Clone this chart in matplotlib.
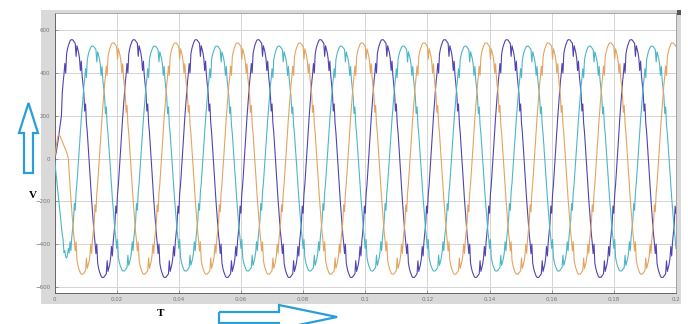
import numpy as np
import matplotlib
matplotlib.use('Agg')
import matplotlib.pyplot as plt
from matplotlib.patches import Rectangle, Polygon

# Positive half-cycle of the inverter voltage, per unit of peak, every 5 degrees
# (negative half is the mirror of it)
half_cycle = [0.00, 0.12, 0.24, 0.35, 0.45, 0.55, 0.64, 0.71, 0.80, 0.72,
              0.88, 0.92, 0.95, 0.97, 0.99, 1.00, 1.00, 1.00, 0.99, 0.98,
              0.97, 0.86, 0.95, 0.92, 0.89, 0.84, 0.74, 0.82, 0.70, 0.62,
              0.55, 0.40, 0.46, 0.30, 0.22, 0.11]

phase_colors = ['#5044b2', '#4db6c6', '#e4a460']
phase_peaks = [555, 525, 540]
phase_shift_deg = [-20, -140, 100]

# start-up samples (first few points after t=0)
startup = {
    0: [0, 10, 30, 55, 80, 110, 140, 170, 200],
    1: [0, -40, -80, -120, -160, -200, -240, -280, -320, -355, -380, -440,
        -430, -460, -465, -450, -420],
    2: [0, 25, 55, 85, 105, 112, 108, 100, 90, 80, 70, 60, 50, 40, 30, 15],
}

f_grid = 50
n_cycles = 10
steps_per_cycle = 72

x_ticks = [0, 0.02, 0.04, 0.06, 0.08, 0.1, 0.12, 0.14, 0.16, 0.18, 0.2]
x_tick_labels = ['0', '0.02', '0.04', '0.06', '0.08', '0.1', '0.12', '0.14', '0.16', '0.18', '0.2']
y_ticks = [-600, -400, -200, 0, 200, 400, 600]

W, H = 688, 324
fig = plt.figure(figsize=(W / 100, H / 100), dpi=100)
fig.patch.set_facecolor('white')


def fx(px):
    return px / W


def fy(py):
    return 1 - py / H


# MATLAB scope grey frame
fig.patches.append(Rectangle((fx(41), fy(304)), fx(681) - fx(41), fy(10) - fy(304),
                             transform=fig.transFigure, facecolor='#d9d9d9',
                             edgecolor='none', zorder=-5))
fig.patches.append(Rectangle((fx(677), fy(15)), fx(4), fy(10) - fy(15),
                             transform=fig.transFigure, facecolor='#555555',
                             edgecolor='none', zorder=-4))

ax = fig.add_axes([fx(54.5), fy(293), fx(676) - fx(54.5), fy(13) - fy(293)])
ax.set_zorder(2)
ax.set_facecolor('white')

cycle = np.concatenate([np.array(half_cycle), -np.array(half_cycle)])
n = n_cycles * steps_per_cycle + 1
k = np.arange(n)
t = k / (f_grid * steps_per_cycle)

for i in range(3):
    shift = int(phase_shift_deg[i] / 5)
    v = phase_peaks[i] * cycle[(k + shift) % steps_per_cycle]
    if i in startup:
        s = np.array(startup[i], dtype=float)
        v[:len(s)] = s
    ax.plot(t, v, color=phase_colors[i], lw=0.8, zorder=3)

ax.set_xlim(0, 0.2)
ax.set_ylim(-628, 680)
ax.set_xticks(x_ticks)
ax.set_xticklabels(x_tick_labels)
ax.set_yticks(y_ticks)
ax.grid(color='#d4d4d4', lw=0.7)
ax.tick_params(direction='in', length=2, width=0.5, labelsize=4,
               colors='#777777', pad=3)
for sp in ax.spines.values():
    sp.set_color('#999999')
    sp.set_linewidth(0.6)
ax.spines['left'].set_color('#555555')
ax.spines['bottom'].set_color('#555555')

# axis letters
fig.text(fx(33), fy(196), 'V', family='Liberation Serif', weight='bold',
         fontsize=8, ha='center', va='center')
fig.text(fx(161), fy(314), 'T', family='Liberation Serif', weight='bold',
         fontsize=8, ha='center', va='center')

arrow_color = '#2a9ed8'
# hollow up arrow
up = [(24, 173), (33, 173), (33, 133), (38, 133), (28.5, 103), (19, 133), (24, 133)]
fig.patches.append(Polygon([(fx(a), fy(b)) for a, b in up], closed=True,
                           transform=fig.transFigure, facecolor='none',
                           edgecolor=arrow_color, lw=1.6, zorder=5))
# hollow right arrow
right = [(219, 312), (279, 312), (279, 305), (337, 317), (279, 329),
         (279, 323), (219, 323)]
fig.patches.append(Polygon([(fx(a), fy(b)) for a, b in right], closed=True,
                           transform=fig.transFigure, facecolor='none',
                           edgecolor=arrow_color, lw=1.6, zorder=5))

fig.savefig('out.png', dpi=100)
